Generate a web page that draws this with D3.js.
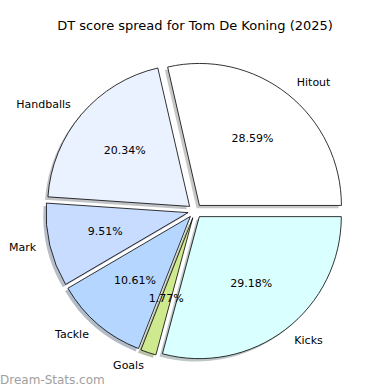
<!DOCTYPE html>
<html>
<head>
<meta charset="utf-8">
<script src="https://cdn.jsdelivr.net/npm/d3@7"></script>
<style>
  body { margin: 0; background: #fff; }
  text { font-family: "DejaVu Sans", sans-serif; fill: #000; }
</style>
</head>
<body>
<svg id="chart" width="390" height="390"></svg>
<script>
const categories = ["Hitout", "Handballs", "Mark", "Tackle", "Goals", "Kicks"];
const values = [28.59, 20.34, 9.51, 10.61, 1.77, 29.18];
const colors = ["#ffffff", "#eaf1ff", "#c8dcff", "#b5d6ff", "#cfe98f", "#daffff"];

const width = 390;
const cx = 195, cy = 211;
const radius = 142;
const explode = 0.05 * radius;
const shadowOff = 0.02 * radius;

const svg = d3.select("#chart");

svg.append("text")
  .attr("x", width / 2)
  .attr("y", 26)
  .attr("text-anchor", "middle")
  .attr("dominant-baseline", "middle")
  .style("font-size", "13px")
  .text("DT score spread for Tom De Koning (2025)");

// matplotlib style: start at 3 o'clock, go counter-clockwise
const pie = d3.pie()
  .sort(null)
  .startAngle(Math.PI / 2)
  .endAngle(Math.PI / 2 - 2 * Math.PI);

const arcs = pie(values)
  .map((a, i) => ({ ...a, name: categories[i], color: colors[i] }));

const arc = d3.arc().innerRadius(0).outerRadius(radius);

const mid = (d) => (d.startAngle + d.endAngle) / 2;

const g = svg.append("g").attr("transform", `translate(${cx},${cy})`);

// shadows
g.selectAll(".shadow")
  .data(arcs)
  .enter()
  .append("path")
  .attr("class", "shadow")
  .attr("d", arc)
  .attr("transform", (d) => {
    const m = mid(d);
    return `translate(${explode * Math.sin(m) - shadowOff},${-explode * Math.cos(m) + shadowOff})`;
  })
  .attr("fill", (d) => d3.color(d.color).darker(1.6))
  .attr("opacity", 0.5);

g.selectAll(".wedge")
  .data(arcs)
  .enter()
  .append("path")
  .attr("class", "wedge")
  .attr("d", arc)
  .attr("transform", (d) => {
    const m = mid(d);
    return `translate(${explode * Math.sin(m)},${-explode * Math.cos(m)})`;
  })
  .attr("fill", (d) => d.color)
  .attr("stroke", "#000")
  .attr("stroke-width", 0.8)
  .attr("stroke-linejoin", "round");

// category labels at 1.1 r
g.selectAll(".label")
  .data(arcs)
  .enter()
  .append("text")
  .attr("class", "label")
  .attr("x", (d) => (explode + 1.1 * radius) * Math.sin(mid(d)))
  .attr("y", (d) => -(explode + 1.1 * radius) * Math.cos(mid(d)))
  .attr("text-anchor", (d) => (Math.sin(mid(d)) > 0 ? "start" : "end"))
  .attr("dominant-baseline", "middle")
  .style("font-size", "11px")
  .text((d) => d.name);

// percentages at 0.6 r
g.selectAll(".pct")
  .data(arcs)
  .enter()
  .append("text")
  .attr("class", "pct")
  .attr("x", (d) => (explode + 0.6 * radius) * Math.sin(mid(d)))
  .attr("y", (d) => -(explode + 0.6 * radius) * Math.cos(mid(d)))
  .attr("text-anchor", "middle")
  .attr("dominant-baseline", "middle")
  .style("font-size", "11px")
  .text((d) => d.data.toFixed(2) + "%");

svg.append("text")
  .attr("x", 0)
  .attr("y", 384)
  .style("font-size", "12px")
  .style("fill", "#a0a0a0")
  .text("Dream-Stats.com");
</script>
</body>
</html>
